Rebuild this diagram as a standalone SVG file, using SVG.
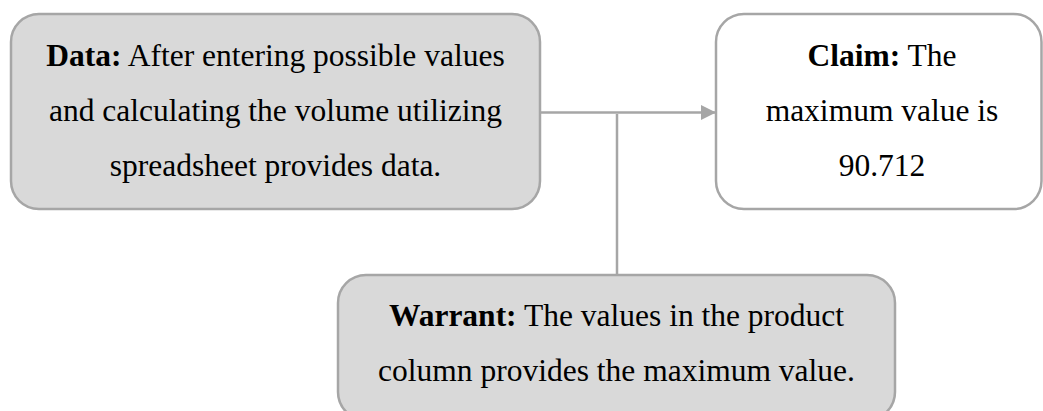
<svg xmlns="http://www.w3.org/2000/svg" width="1043" height="411" viewBox="0 0 1043 411">
  <style>
    .box { stroke: #a6a6a6; stroke-width: 2.5; }
    .grey { fill: #d9d9d9; }
    .white { fill: #ffffff; }
    .label { font-family: "Liberation Serif", "Times New Roman", serif; font-size: 31.5px; fill: #000000; text-anchor: middle; }
    .key { font-weight: bold; }
    .link { stroke: #a6a6a6; stroke-width: 2.5; fill: none; }
  </style>
  <defs>
    <marker id="arrow" markerUnits="userSpaceOnUse" markerWidth="16" markerHeight="16" refX="15" refY="8" orient="auto">
      <path d="M0,0.5 L15,8 L0,15.5 Z" fill="#a6a6a6"/>
    </marker>
  </defs>

  <rect width="1043" height="411" fill="#ffffff"/>

  <g id="connectors">
    <line class="link" x1="540" y1="112.5" x2="716" y2="112.5" marker-end="url(#arrow)"/>
    <line class="link" x1="617" y1="114" x2="617" y2="275"/>
  </g>

  <g id="data">
    <rect class="box grey" x="11" y="14" width="529" height="195" rx="28" ry="28"/>
    <text class="label" x="275.5" y="66"><tspan class="key">Data:</tspan> After entering possible values</text>
    <text class="label" x="275.5" y="121">and calculating the volume utilizing</text>
    <text class="label" x="275.5" y="176">spreadsheet provides data.</text>
  </g>

  <g id="claim">
    <rect class="box white" x="716" y="14" width="325.5" height="195" rx="28" ry="28"/>
    <text class="label" x="882" y="66"><tspan class="key">Claim:</tspan> The</text>
    <text class="label" x="882" y="121">maximum value is</text>
    <text class="label" x="882" y="176">90.712</text>
  </g>

  <g id="warrant">
    <rect class="box grey" x="338" y="275" width="557" height="145" rx="28" ry="28"/>
    <text class="label" x="616.5" y="326"><tspan class="key">Warrant:</tspan> The values in the product</text>
    <text class="label" x="616.5" y="381">column provides the maximum value.</text>
  </g>
</svg>
